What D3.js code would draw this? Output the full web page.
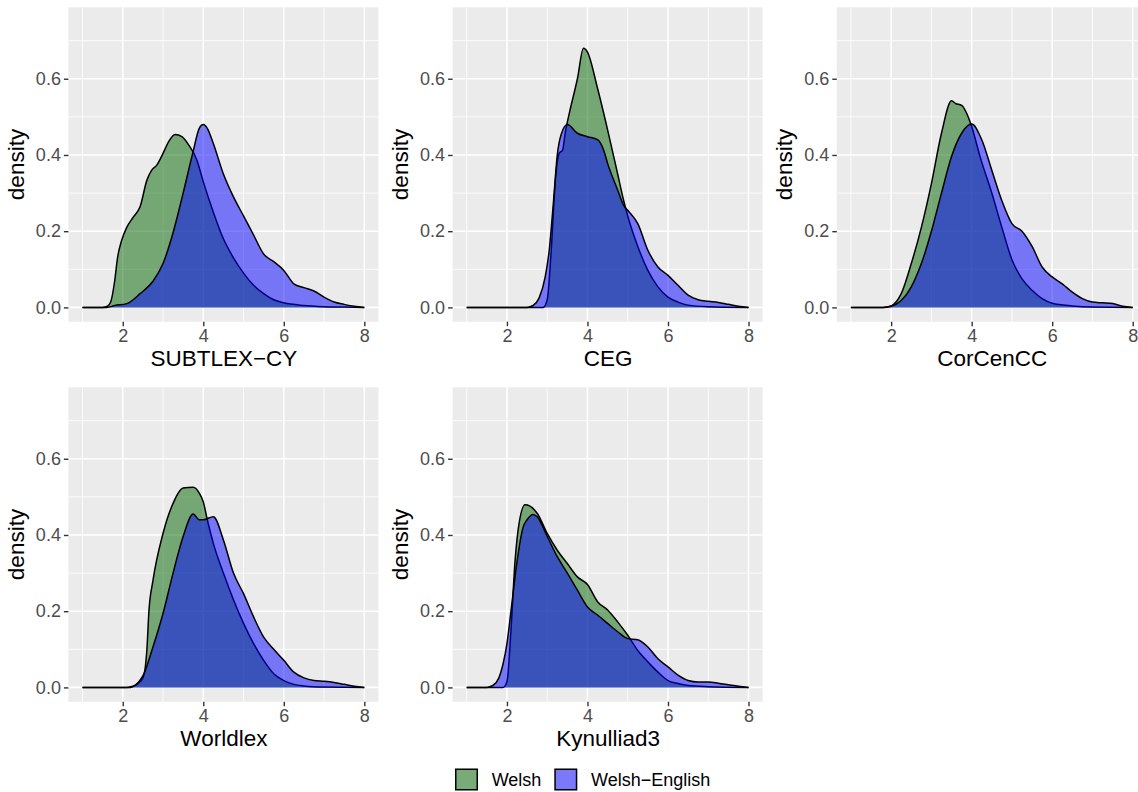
<!DOCTYPE html>
<html lang="en">
<head>
<meta charset="utf-8">
<title>Density plots</title>
<script src="https://d3js.org/d3.v7.min.js"></script>
<style>
  body { margin: 0; background: #fff; }
  svg { display: block; font-family: "Liberation Sans", Arial, Helvetica, sans-serif; }
</style>
</head>
<body>
<div id="chart"></div>
<script>
// Corpus names, one per panel
var corpora = ["SUBTLEX\u2212CY", "CEG", "CorCenCC", "Worldlex", "Kynulliad3"];
var groups = ["Welsh", "Welsh\u2212English"];

// Density curves, [x, density]
var subtlexWelsh = [[1,0],[1.5,0],[1.62,0.003],[1.7,0.014],[1.8,0.07],[1.87,0.13],[1.97,0.175],[2.1,0.21],[2.27,0.238],[2.43,0.264],[2.6,0.334],[2.72,0.36],[2.85,0.374],[3.0,0.404],[3.14,0.435],[3.3,0.454],[3.47,0.448],[3.64,0.426],[3.84,0.387],[4.0,0.33],[4.25,0.25],[4.5,0.18],[4.75,0.13],[5.0,0.09],[5.25,0.058],[5.5,0.036],[5.75,0.02],[6.0,0.012],[6.5,0.005],[7,0.002],[7.5,0.001],[8,0]];
var subtlexMixed = [[1,0],[1.6,0],[1.8,0.005],[2.1,0.01],[2.43,0.036],[2.76,0.07],[3.0,0.115],[3.26,0.2],[3.5,0.3],[3.75,0.41],[3.9,0.47],[4.0,0.48],[4.1,0.47],[4.25,0.43],[4.5,0.35],[4.75,0.29],[5.0,0.24],[5.25,0.19],[5.5,0.14],[5.75,0.12],[6.0,0.097],[6.25,0.062],[6.5,0.052],[6.75,0.043],[7.0,0.027],[7.25,0.014],[7.5,0.008],[7.75,0.003],[8,0]];

var cegWelsh = [[1,0],[2.9,0],[3.0,0.02],[3.1,0.15],[3.2,0.33],[3.3,0.405],[3.38,0.412],[3.45,0.46],[3.55,0.51],[3.75,0.6],[3.9,0.68],[4.0,0.67],[4.25,0.575],[4.5,0.466],[4.75,0.35],[4.9,0.28],[5.0,0.24],[5.25,0.16],[5.5,0.097],[5.75,0.054],[6.0,0.027],[6.25,0.014],[6.5,0.006],[7,0.002],[8,0]];
var cegMixed = [[1,0],[2.5,0],[2.65,0.005],[2.8,0.025],[2.95,0.08],[3.05,0.15],[3.15,0.27],[3.25,0.4],[3.35,0.455],[3.5,0.48],[3.75,0.457],[4.0,0.448],[4.25,0.44],[4.4,0.413],[4.5,0.378],[4.75,0.308],[4.9,0.268],[5.0,0.255],[5.25,0.22],[5.5,0.15],[5.75,0.106],[6.0,0.084],[6.25,0.058],[6.5,0.032],[6.75,0.02],[7.0,0.016],[7.25,0.013],[7.5,0.008],[7.75,0.003],[8,0]];

var corWelsh = [[1,0],[1.8,0],[2.0,0.004],[2.25,0.036],[2.5,0.115],[2.75,0.21],[3.0,0.325],[3.25,0.457],[3.5,0.542],[3.6,0.535],[3.75,0.53],[4.0,0.475],[4.21,0.395],[4.5,0.3],[4.75,0.21],[5.0,0.125],[5.25,0.075],[5.5,0.045],[5.75,0.023],[6.0,0.011],[6.5,0.004],[7,0.001],[8,0]];
var corMixed = [[1,0],[1.8,0],[2.0,0.003],[2.25,0.018],[2.5,0.054],[2.75,0.115],[3.0,0.2],[3.25,0.3],[3.5,0.396],[3.75,0.457],[4.0,0.481],[4.25,0.44],[4.5,0.36],[4.75,0.28],[5.0,0.22],[5.25,0.2],[5.5,0.16],[5.75,0.106],[6.0,0.08],[6.25,0.062],[6.5,0.04],[6.75,0.023],[7.0,0.014],[7.25,0.012],[7.5,0.01],[7.75,0.003],[8,0]];

var worldWelsh = [[1,0],[2.1,0],[2.25,0.003],[2.4,0.012],[2.5,0.025],[2.55,0.045],[2.6,0.1],[2.65,0.2],[2.75,0.28],[3.0,0.404],[3.25,0.483],[3.5,0.523],[3.75,0.525],[3.9,0.51],[4.0,0.487],[4.1,0.44],[4.25,0.378],[4.5,0.3],[4.75,0.23],[5.0,0.168],[5.25,0.115],[5.5,0.071],[5.75,0.036],[6.0,0.018],[6.25,0.008],[6.5,0.004],[7,0.001],[8,0]];
var worldMixed = [[1,0],[2.2,0],[2.3,0.005],[2.4,0.015],[2.5,0.03],[2.75,0.106],[3.0,0.194],[3.25,0.3],[3.5,0.396],[3.75,0.455],[3.9,0.44],[4.0,0.44],[4.25,0.448],[4.5,0.387],[4.75,0.3],[5.0,0.246],[5.25,0.185],[5.5,0.132],[5.75,0.1],[6.0,0.071],[6.25,0.04],[6.5,0.025],[6.75,0.018],[7.0,0.016],[7.25,0.013],[7.5,0.008],[7.75,0.003],[8,0]];

var kynWelsh = [[1,0],[1.9,0],[2.0,0.015],[2.1,0.15],[2.2,0.33],[2.3,0.43],[2.45,0.479],[2.75,0.457],[3.0,0.404],[3.25,0.36],[3.5,0.325],[3.75,0.29],[4.0,0.27],[4.25,0.225],[4.5,0.203],[4.75,0.172],[5.0,0.137],[5.25,0.097],[5.5,0.067],[5.75,0.04],[6.0,0.018],[6.25,0.01],[6.5,0.005],[7,0.002],[8,0]];
var kynMixed = [[1,0],[1.5,0],[1.65,0.005],[1.8,0.025],[1.9,0.06],[2.0,0.115],[2.1,0.2],[2.25,0.33],[2.4,0.42],[2.5,0.44],[2.65,0.454],[2.75,0.448],[3.0,0.396],[3.25,0.343],[3.5,0.3],[3.75,0.255],[4.0,0.211],[4.25,0.19],[4.5,0.168],[4.75,0.146],[5.0,0.128],[5.25,0.125],[5.5,0.106],[5.75,0.075],[6.0,0.054],[6.25,0.032],[6.5,0.018],[6.75,0.014],[7.0,0.014],[7.25,0.011],[7.5,0.007],[7.75,0.003],[8,0]];

var welshSeries = [subtlexWelsh, cegWelsh, corWelsh, worldWelsh, kynWelsh];
var mixedSeries = [subtlexMixed, cegMixed, corMixed, worldMixed, kynMixed];

var xTicks = [2, 4, 6, 8];
var yTicks = [0, 0.2, 0.4, 0.6];
var xMinor = [1, 3, 5, 7];
var yMinor = [0.1, 0.3, 0.5, 0.7];

var fills = ["rgba(0,100,0,0.5)", "rgba(0,0,255,0.5)"];

/* Layout: 3 columns, 2 rows of panels */
var W = 1138, H = 792;
var panelW = 310, panelH = 314.4;
var colX = [68.4, 452.6, 836.8];
var rowY = [7.3, 387.3];

var svg = d3.select("#chart").append("svg")
    .attr("width", W)
    .attr("height", H);

var x = d3.scaleLinear().domain([0.65, 8.35]).range([0, panelW]);
var y = d3.scaleLinear().domain([-0.0375, 0.7875]).range([panelH, 0]);

var area = d3.area()
    .curve(d3.curveMonotoneX)
    .x(function(d) { return x(d[0]); })
    .y0(y(0))
    .y1(function(d) { return y(d[1]); });

var line = d3.line()
    .curve(d3.curveMonotoneX)
    .x(function(d) { return x(d[0]); })
    .y(function(d) { return y(d[1]); });

corpora.forEach(function(name, i) {
    var g = svg.append("g")
        .attr("transform", "translate(" + colX[i % 3] + "," + rowY[Math.floor(i / 3)] + ")");

    // panel background
    g.append("rect")
        .attr("width", panelW)
        .attr("height", panelH)
        .attr("fill", "#EBEBEB");

    // minor grid
    g.selectAll(".vminor").data(xMinor).enter().append("line")
        .attr("x1", x).attr("x2", x)
        .attr("y1", 0).attr("y2", panelH)
        .attr("stroke", "#fff").attr("stroke-width", 0.8);
    g.selectAll(".hminor").data(yMinor).enter().append("line")
        .attr("x1", 0).attr("x2", panelW)
        .attr("y1", y).attr("y2", y)
        .attr("stroke", "#fff").attr("stroke-width", 0.8);

    // major grid
    g.selectAll(".vmajor").data(xTicks).enter().append("line")
        .attr("x1", x).attr("x2", x)
        .attr("y1", 0).attr("y2", panelH)
        .attr("stroke", "#fff").attr("stroke-width", 1.6);
    g.selectAll(".hmajor").data(yTicks).enter().append("line")
        .attr("x1", 0).attr("x2", panelW)
        .attr("y1", y).attr("y2", y)
        .attr("stroke", "#fff").attr("stroke-width", 1.6);

    // densities: Welsh first, Welsh-English on top
    [welshSeries[i], mixedSeries[i]].forEach(function(data, k) {
        g.append("path")
            .attr("d", area(data))
            .attr("fill", fills[k]);
        g.append("path")
            .attr("d", line(data))
            .attr("fill", "none")
            .attr("stroke", "#000")
            .attr("stroke-width", 1.5)
            .attr("stroke-linejoin", "round");
    });

    // axes
    var xAxis = d3.axisBottom(x).tickValues(xTicks).tickSize(4.5).tickPadding(3);
    var yAxis = d3.axisLeft(y).tickValues(yTicks).tickSize(4.5).tickPadding(3)
        .tickFormat(d3.format(".1f"));

    var gx = g.append("g")
        .attr("transform", "translate(0," + panelH + ")")
        .call(xAxis);
    var gy = g.append("g").call(yAxis);

    [gx, gy].forEach(function(a) {
        a.select(".domain").remove();
        a.selectAll(".tick line").attr("stroke", "#333").attr("stroke-width", 1.4);
        a.selectAll(".tick text")
            .attr("fill", "#4D4D4D")
            .style("font-size", "18px")
            .style("font-family", "'Liberation Sans', Arial, Helvetica, sans-serif");
    });

    // axis titles
    g.append("text")
        .attr("x", panelW / 2 + 0.5)
        .attr("y", panelH + 44.5)
        .attr("text-anchor", "middle")
        .style("font-size", "22.5px")
        .attr("fill", "#000")
        .text(name);

    g.append("text")
        .attr("transform", "translate(-44.6," + (panelH / 2) + ") rotate(-90)")
        .attr("text-anchor", "middle")
        .style("font-size", "22.5px")
        .attr("fill", "#000")
        .text("density");
});

// Legend at the bottom
var legend = svg.append("g").attr("transform", "translate(455,768.5)");
var keyX = [0, 99.3];
groups.forEach(function(name, k) {
    var lg = legend.append("g").attr("transform", "translate(" + keyX[k] + ",0)");
    lg.append("rect")
        .attr("width", 23).attr("height", 22)
        .attr("fill", "#F2F2F2");
    lg.append("rect")
        .attr("x", 0.75).attr("y", 0.75)
        .attr("width", 21.5).attr("height", 20.5)
        .attr("fill", fills[k])
        .attr("stroke", "#000")
        .attr("stroke-width", 1.5);
    lg.append("text")
        .attr("x", 36.7)
        .attr("y", 17.8)
        .style("font-size", "18px")
        .attr("fill", "#000")
        .text(name);
});
</script>
</body>
</html>
